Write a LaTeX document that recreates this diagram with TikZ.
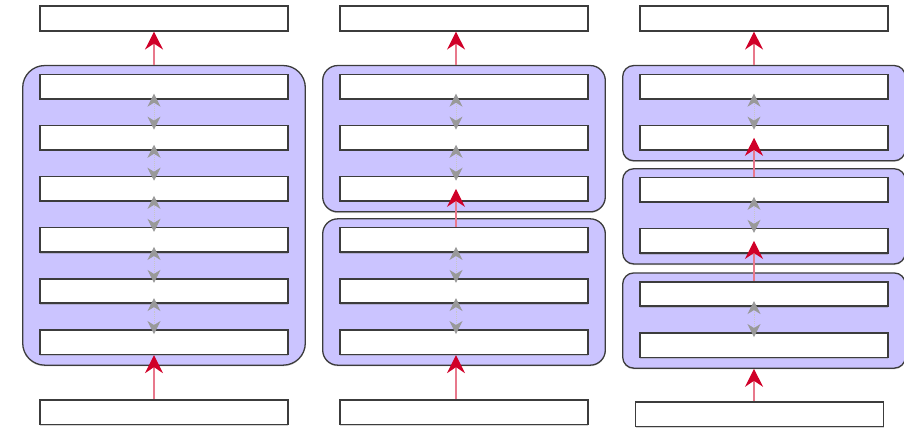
\documentclass[tikz,border=0pt]{standalone}
\usepackage{xcolor}
\usepackage{tikz}
\usetikzlibrary{positioning, fit, backgrounds, shadows, arrows.meta}

\definecolor{lilac}{RGB}{203,196,255}
\definecolor{edgegray}{RGB}{60,60,60}
\definecolor{flowred}{RGB}{208,0,40}
\definecolor{flowpink}{RGB}{232,120,140}

\begin{document}
\begin{tikzpicture}[node distance=25pt,
      layer/.style={rectangle, draw=edgegray, line width=1.6pt, fill=white,
        minimum width=248pt, minimum height=24.5pt, inner sep=0pt,
        drop shadow={shadow xshift=0pt, shadow yshift=-1.4pt, opacity=.35}},
      block/.style={rectangle, rounded corners=#1, draw=edgegray, line width=1.3pt,
        fill=lilac, inner xsep=16.5pt, inner ysep=9pt, yshift=-1pt,
        drop shadow={shadow xshift=0pt, shadow yshift=-1.2pt, opacity=.3}},
      up/.style={-{Stealth[length=18pt, width=18pt, inset=6pt, color=flowred]},
        draw=flowpink, line width=1.4pt},
      link/.style={{Stealth[length=13pt, width=13pt, inset=4pt, color=gray!80]}-{Stealth[length=13pt, width=13pt, inset=4pt, color=gray!80]},
        draw=gray!45, densely dotted, line width=.9pt, shorten <=-6pt, shorten >=-5pt}]

    \useasboundingbox (0pt,0pt) rectangle (904pt,-430pt);

    % left column: all six layers in one block
    \node[layer] (a0) at (164pt,-18.5pt) {};
    \node[layer] (a1) [below=42pt of a0] {};
    \node[layer] (a2) [below=of a1] {};
    \node[layer] (a3) [below=of a2] {};
    \node[layer] (a4) [below=of a3] {};
    \node[layer] (a5) [below=of a4] {};
    \node[layer] (a6) [below=of a5] {};
    \node[layer] (a7) [below=44pt of a6] {};

    % middle column: two blocks of three
    \node[layer] (b0) at (464pt,-18.5pt) {};
    \node[layer] (b1) [below=42pt of b0] {};
    \node[layer] (b2) [below=of b1] {};
    \node[layer] (b3) [below=of b2] {};
    \node[layer] (b4) [below=of b3] {};
    \node[layer] (b5) [below=of b4] {};
    \node[layer] (b6) [below=of b5] {};
    \node[layer] (b7) [below=44pt of b6] {};

    % right column: three blocks of two
    \node[layer] (c0) at (764pt,-18.5pt) {};
    \node[layer] (c1) [below=42pt of c0] {};
    \node[layer] (c2) [below=of c1] {};
    \node[layer] (c3) [below=26pt of c2] {};
    \node[layer] (c4) [below=of c3] {};
    \node[layer] (c5) [below=27pt of c4] {};
    \node[layer] (c6) [below=of c5] {};
    \node[layer] (c7) [below=43pt of c6, xshift=-4.5pt] {};

    \begin{pgfonlayer}{background}
        \node[block=22pt, fit=(a1)(a6)] (A) {};
        \node[block=15pt, fit=(b1)(b3)] (B1) {};
        \node[block=15pt, fit=(b4)(b6)] (B2) {};
        \node[block=11pt, fit=(c1)(c2)] (C1) {};
        \node[block=11pt, fit=(c3)(c4)] (C2) {};
        \node[block=11pt, fit=(c5)(c6)] (C3) {};
    \end{pgfonlayer}

    % flow between blocks
    \draw[up] ([xshift=-10pt]A.north) -- ([xshift=-10pt]a0.south);
    \draw[up] ([xshift=-10pt]a7.north) -- ([xshift=-10pt]a6.south);

    \draw[up] ([xshift=-8pt]B1.north) -- ([xshift=-8pt]b0.south);
    \draw[up, shorten >=-13pt] ([xshift=-8pt]b4.north) -- ([xshift=-8pt]b3.south);
    \draw[up] ([xshift=-8pt]b7.north) -- ([xshift=-8pt]b6.south);

    \draw[up] ([xshift=-10pt]C1.north) -- ([xshift=-10pt]c0.south);
    \draw[up, shorten >=-13pt] ([xshift=-10pt]c3.north) -- ([xshift=-10pt]c2.south);
    \draw[up, shorten >=-13pt] ([xshift=-10pt]c5.north) -- ([xshift=-10pt]c4.south);
    \draw[up] ([xshift=-5.5pt]c7.north) -- ([xshift=-10pt]C3.south);

    % links inside each block
    \foreach \i/\j in {1/2,2/3,3/4,4/5,5/6}
        \draw[link] ([xshift=-10pt]a\i.south) -- ([xshift=-10pt]a\j.north);
    \foreach \i/\j in {1/2,2/3,4/5,5/6}
        \draw[link] ([xshift=-8pt]b\i.south) -- ([xshift=-8pt]b\j.north);
    \foreach \i/\j in {1/2,3/4,5/6}
        \draw[link] ([xshift=-10pt]c\i.south) -- ([xshift=-10pt]c\j.north);
\end{tikzpicture}
\end{document}
